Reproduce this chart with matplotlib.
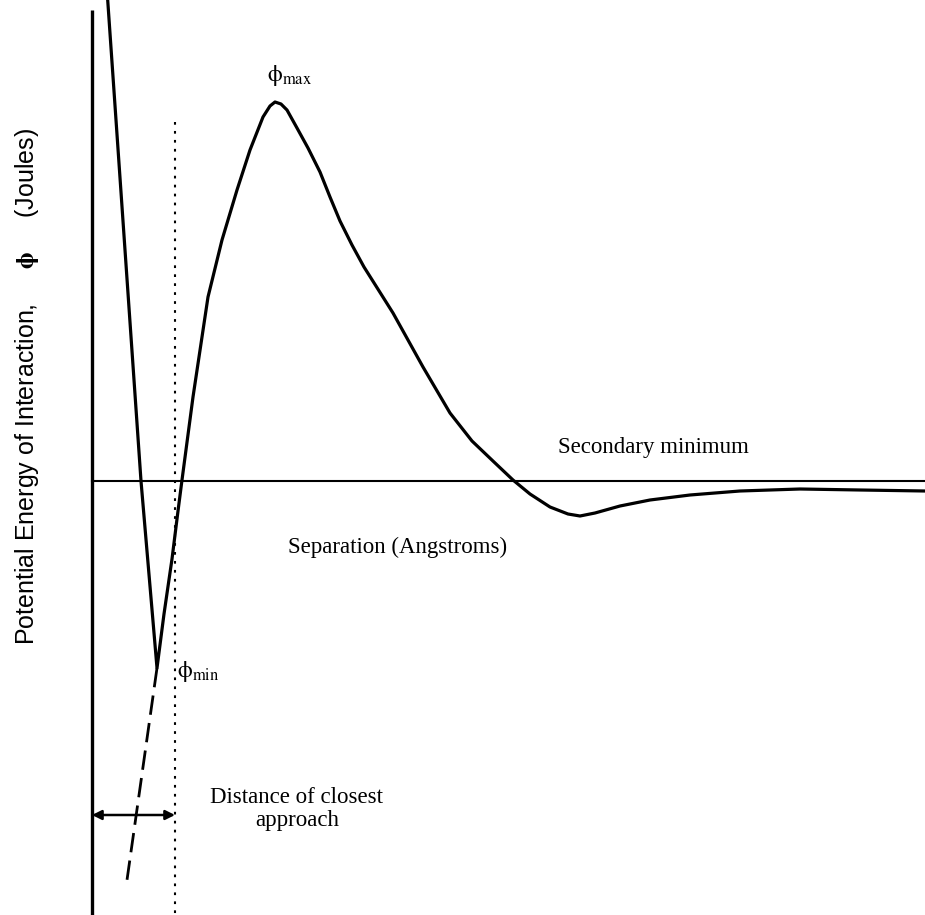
import numpy as np
import matplotlib
matplotlib.use('Agg')
from matplotlib import pyplot as plt

plt.rcParams['mathtext.fontset'] = 'stix'

# interaction potential vs separation (arbitrary units, origin where the axes cross)
sep = [15, 49, 65, 72, 80, 86, 90, 101, 116, 130, 145, 158, 171, 178, 183, 189, 195,
       205, 216, 228, 238, 248, 260, 272, 301, 331, 358, 380, 402, 421, 438, 458, 476,
       488, 503, 528, 558, 598, 648, 708, 768, 833]
phi = [491, 0, -187, -133, -78, -30, 1, 84, 184, 241, 291, 331, 364, 375, 379, 377, 371,
       353, 333, 309, 284, 260, 236, 214, 168, 114, 68, 40, 19, 1, -13, -26, -33,
       -35, -32, -25, -19, -14, -10, -8, -9, -10]

# extrapolation of the repulsive branch below the primary minimum
ext_sep = [65, 35]
ext_phi = [-187, -399]

closest = 83        # distance of closest approach
arrow_y = -334

fig = plt.figure(figsize=(9.25, 9.15), dpi=100)
ax = fig.add_axes([0, 0, 1, 1])
ax.set_xlim(-92, 833)
ax.set_ylim(-434, 481)
ax.axis('off')

# axes lines
ax.plot([0, 0], [471, -434], color='black', lw=2.4, solid_capstyle='butt')
ax.plot([0, 833], [0, 0], color='black', lw=1.5)

ax.plot(sep, phi, color='black', lw=2.3, solid_joinstyle='round')
ax.plot(ext_sep, ext_phi, color='black', lw=2.0, dashes=(7, 3))
ax.plot([closest, closest], [359, -434], color='black', lw=1.5, dashes=(1.3, 3))

ax.annotate('', xy=(0, arrow_y), xytext=(closest, arrow_y),
            arrowprops=dict(arrowstyle='<|-|>', color='black', lw=1.8,
                            mutation_scale=14, shrinkA=0, shrinkB=0))

serif = 'Liberation Serif'
ax.text(198, 406, r'$\mathrm{\phi}_{\mathrm{max}}$', fontsize=17, ha='center', va='center')
ax.text(85, -191, r'$\mathrm{\phi}_{\mathrm{min}}$', fontsize=17, ha='left', va='center')
ax.text(561, 34, 'Secondary minimum', family=serif, fontsize=16.5, ha='center', va='center')
ax.text(306, -66, 'Separation (Angstroms)', family=serif, fontsize=16.5, ha='center', va='center')
ax.text(205, -328, 'Distance of closest\napproach', family=serif, fontsize=16.5,
        ha='center', va='center', linespacing=1.15)
ax.text(-65, 95, r'Potential Energy of Interaction,     $\mathbf{\phi}$     (Joules)',
        family='Liberation Sans', fontsize=18,
        rotation=90, ha='center', va='center')

plt.savefig('out.png')
